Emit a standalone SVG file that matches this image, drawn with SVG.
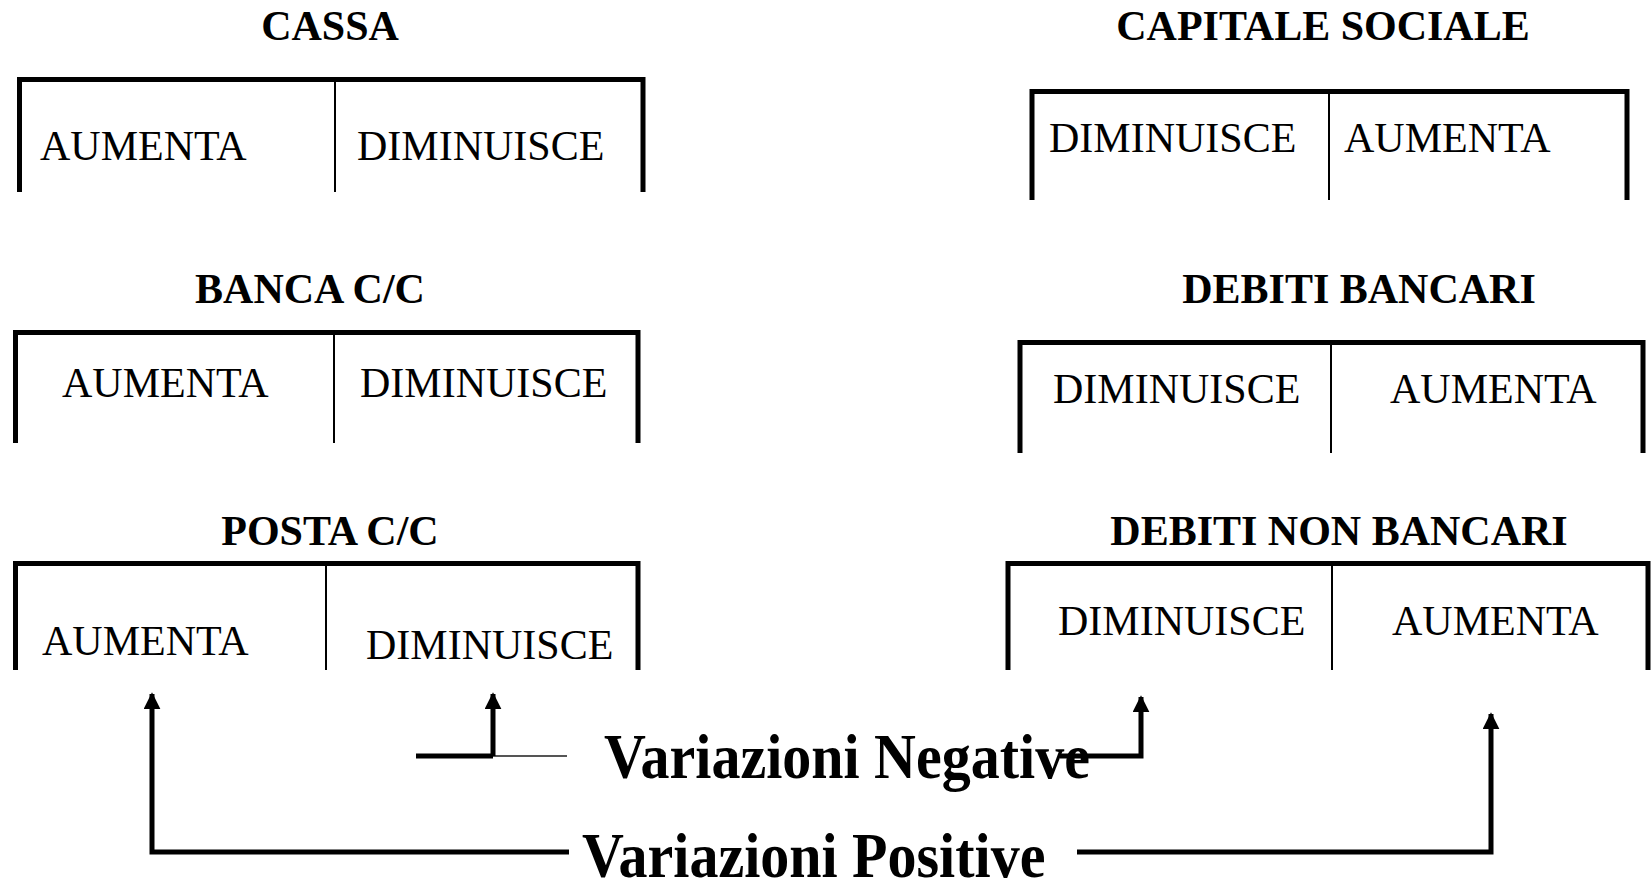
<svg xmlns="http://www.w3.org/2000/svg" width="1651" height="882" viewBox="0 0 1651 882">
<style>
.frame{fill:none;stroke:#000;stroke-width:5;stroke-linejoin:miter}
.div{stroke:#000;stroke-width:2}
.t{font-family:"Liberation Serif","Times New Roman",serif;font-size:42px;fill:#000}
.h{font-family:"Liberation Serif","Times New Roman",serif;font-size:42px;font-weight:bold;fill:#000;text-anchor:middle}
.v{font-family:"Liberation Serif","Times New Roman",serif;font-size:58px;font-weight:bold;fill:#000}
.c{fill:none;stroke:#000;stroke-width:5}
</style>
<defs>
<marker id="ah" viewBox="0 0 10 10" refX="9" refY="5" markerWidth="3.4" markerHeight="3.4" orient="auto" markerUnits="strokeWidth">
<path d="M0,0 L10,5 L0,10 Z" fill="#000"/>
</marker>
</defs>
<rect width="1651" height="882" fill="#fff"/>

<g id="cassa">
<text class="h" x="330" y="40">CASSA</text>
<path class="frame" d="M19.5,192 V79.5 H643 V192"/>
<line class="div" x1="335" y1="80" x2="335" y2="192"/>
<text class="t" x="40" y="160">AUMENTA</text>
<text class="t" x="357" y="160">DIMINUISCE</text>
</g>

<g id="capitale-sociale">
<text class="h" x="1323" y="40">CAPITALE SOCIALE</text>
<path class="frame" d="M1032,200 V91.5 H1627 V200"/>
<line class="div" x1="1329" y1="92" x2="1329" y2="200"/>
<text class="t" x="1049" y="152">DIMINUISCE</text>
<text class="t" x="1344" y="152">AUMENTA</text>
</g>

<g id="banca">
<text class="h" x="310" y="303">BANCA C/C</text>
<path class="frame" d="M15.5,443 V332.5 H638 V443"/>
<line class="div" x1="334" y1="333" x2="334" y2="443"/>
<text class="t" x="62" y="397">AUMENTA</text>
<text class="t" x="360" y="397">DIMINUISCE</text>
</g>

<g id="debiti-bancari">
<text class="h" x="1359" y="303">DEBITI BANCARI</text>
<path class="frame" d="M1020,453 V342.5 H1643 V453"/>
<line class="div" x1="1331" y1="343" x2="1331" y2="453"/>
<text class="t" x="1053" y="403">DIMINUISCE</text>
<text class="t" x="1390" y="403">AUMENTA</text>
</g>

<g id="posta">
<text class="h" x="330" y="545">POSTA C/C</text>
<path class="frame" d="M15.5,670 V563.5 H638 V670"/>
<line class="div" x1="326" y1="564" x2="326" y2="670"/>
<text class="t" x="42" y="655">AUMENTA</text>
<text class="t" x="366" y="659">DIMINUISCE</text>
</g>

<g id="debiti-non-bancari">
<text class="h" x="1339" y="545">DEBITI NON BANCARI</text>
<path class="frame" d="M1008,670 V563.5 H1648 V670"/>
<line class="div" x1="1332" y1="564" x2="1332" y2="670"/>
<text class="t" x="1058" y="635">DIMINUISCE</text>
<text class="t" x="1392" y="635">AUMENTA</text>
</g>

<g id="labels">
<text class="v" transform="translate(604,778) scale(1,1.08)">Variazioni Negative</text>
<text class="v" transform="translate(582,877) scale(1,1.08)">Variazioni Positive</text>
</g>

<g id="connectors">
<path class="c" d="M569,852 H152 V694" marker-end="url(#ah)"/>
<line x1="416" y1="756" x2="493" y2="756" stroke="#000" stroke-width="5"/>
<line x1="493" y1="756" x2="567" y2="756" stroke="#555" stroke-width="2"/>
<path class="c" d="M493,756 V694" marker-end="url(#ah)"/>
<path class="c" d="M1060,756 H1141 V697" marker-end="url(#ah)"/>
<path class="c" d="M1077,852 H1491 V714" marker-end="url(#ah)"/>
</g>
</svg>
